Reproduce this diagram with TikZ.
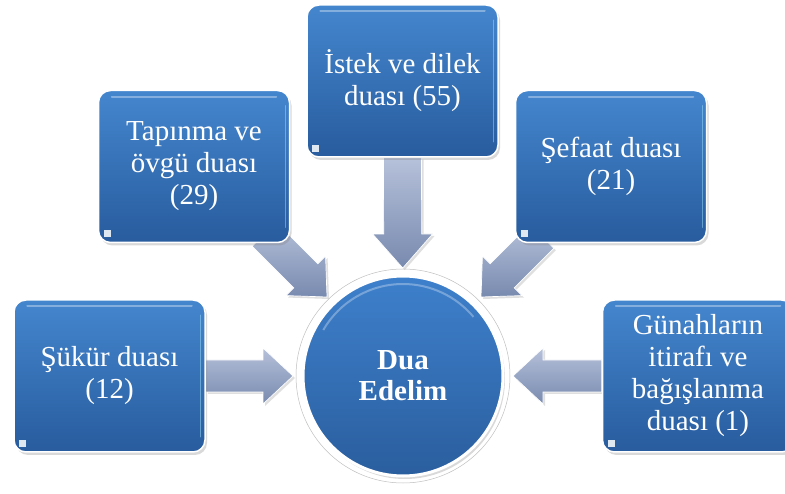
\documentclass[tikz,border=0pt]{standalone}
\usepackage{fontspec}
\setmainfont{Liberation Serif}
\newfontfamily\tnrfont{Liberation Serif}
\usetikzlibrary{calc,shadows}
\pgfdeclarelayer{background}
\pgfsetlayers{background,main}
\definecolor{boxtop}{RGB}{68,134,206}
\definecolor{boxbot}{RGB}{40,92,158}
\definecolor{hubtop}{RGB}{62,128,204}
\definecolor{hubbot}{RGB}{42,94,158}
\definecolor{arrlight}{RGB}{182,193,218}
\definecolor{arrdark}{RGB}{120,138,175}
% #1 start, #2 tip, #3 shaft half width, #4 head half width, #5 head length
\newcommand\blockarr[5]{%
  \coordinate (hb) at ($(#2)!#5!(#1)$);
  \path[arrowbody] ($(#1)!#3!90:(#2)$) -- ($(hb)!#3!90:(#2)$) -- ($(hb)!#4!90:(#2)$)
    -- (#2) -- ($(hb)!#4!-90:(#2)$) -- ($(hb)!#3!-90:(#2)$) -- ($(#1)!#3!-90:(#2)$) -- cycle;
}
\begin{document}
\begin{tikzpicture}[x=1pt,y=1pt,
  box/.style={rectangle, rounded corners=12pt, minimum width=191pt, minimum height=152pt,
    inner sep=0pt, draw=white, line width=1.5pt, top color=boxtop, bottom color=boxbot,
    text=white, align=center, font=\tnrfont\fontsize{29}{32}\selectfont,
    drop shadow={shadow xshift=2pt, shadow yshift=-3pt, opacity=0.3}},
  hub/.style={circle, minimum size=200pt, inner sep=0pt, draw=white, line width=3pt,
    top color=hubtop, bottom color=hubbot, text=white, align=center,
    font=\tnrfont\fontsize{29}{31}\selectfont\bfseries,
    drop shadow={shadow xshift=2pt, shadow yshift=-3pt, opacity=0.3}},
  arrowbody/.style={top color=arrlight, bottom color=arrdark, draw=white, line width=0.7pt,
    drop shadow={shadow xshift=2pt, shadow yshift=-2pt, opacity=0.25}},
  gloss/.style={white, opacity=0.35, line width=2pt, line cap=round}]
\useasboundingbox (0,0) rectangle (785,493);
\node[box] (suk) at (109.5,117) {Şükür duası\\(12)};
\node[box] (tap) at (194,326.5) {Tapınma ve\\övgü duası\\(29)};
\node[box] (ist) at (402.5,412) {İstek ve dilek\\duası (55)};
\node[box] (sef) at (611,326.5) {Şefaat duası\\(21)};
\node[box] (gun) at (698,117) {Günahların\\itirafı ve\\bağışlanma\\duası (1)};
\node[hub] (dua) at (403,117) {Dua\\Edelim};
\foreach \b in {suk,tap,ist,sef,gun}{
  \draw[gloss] ($(\b.north west)+(14,-7)$) -- ($(\b.north east)+(-14,-7)$);
  \draw[cyan!40, opacity=0.5, line width=1.2pt, line cap=round]
    ($(\b.north east)+(-5,-16)$) -- ($(\b.south east)+(-5,16)$);
  \fill[white, opacity=0.85] ($(\b.south west)+(6,6)$) rectangle +(7,7);
}
\draw[white, opacity=0.3, line width=2pt] (dua.center) ++(150:92) arc (150:40:92);
\begin{pgfonlayer}{background}
  \draw[black!25, line width=0.5pt] (dua.center) circle (107);
  \coordinate (tSuk) at ($(dua.center)!110pt!(suk.east)$);
  \blockarr{suk.east}{tSuk}{16pt}{28pt}{30pt}
  \coordinate (tIst) at ($(dua.center)!108pt!(ist.south)$);
  \blockarr{ist.south}{tIst}{19pt}{30pt}{34pt}
  \coordinate (tGun) at ($(dua.center)!110pt!(gun.west)$);
  \blockarr{gun.west}{tGun}{16pt}{28pt}{30pt}
  \coordinate (tTap) at ($(dua.center)+(-76,79)$);
  \coordinate (sTap) at ($(tap.south east)+(-26,9)$);
  \blockarr{sTap}{tTap}{17pt}{28pt}{30pt}
  \coordinate (tSef) at ($(dua.center)+(78,79)$);
  \coordinate (sSef) at ($(sef.south west)+(27,7)$);
  \blockarr{sSef}{tSef}{17pt}{28pt}{30pt}
\end{pgfonlayer}
\end{tikzpicture}
\end{document}
